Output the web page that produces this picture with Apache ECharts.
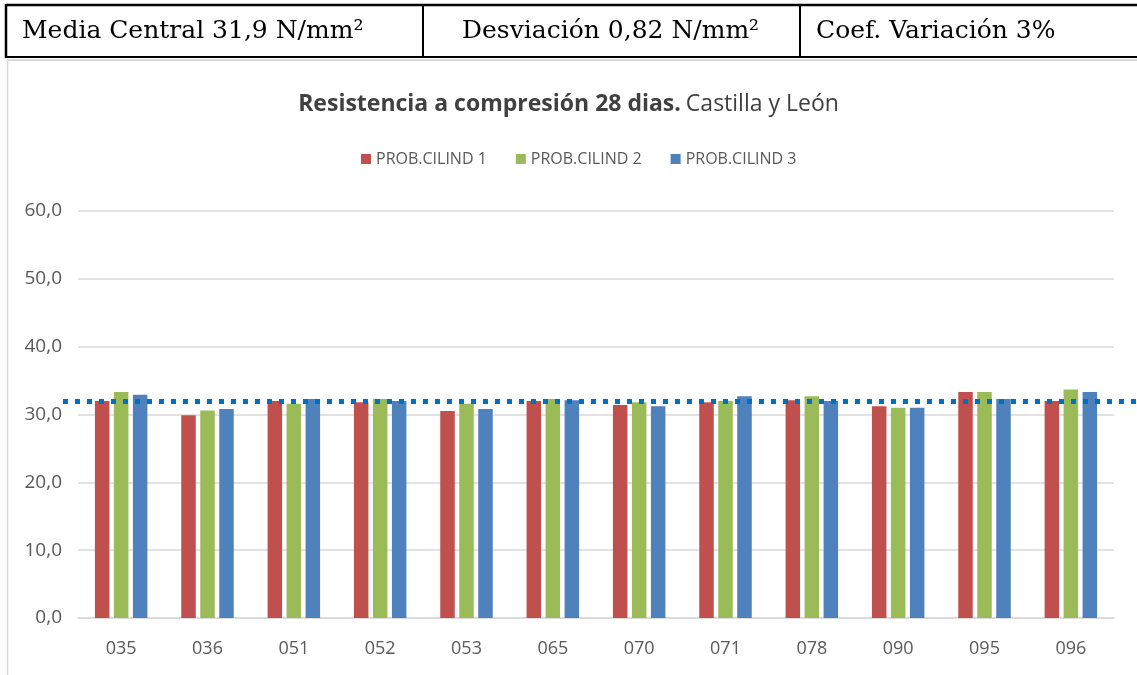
<!DOCTYPE html>
<html>
<head>
<meta charset="utf-8">
<script src="https://cdn.jsdelivr.net/npm/echarts@6/dist/echarts.min.js"></script>
<style>
html,body{margin:0;padding:0;background:#fff;}
#chart{width:1137px;height:675px;}
</style>
</head>
<body>
<div id="chart"></div>
<script>
const categories = ['035','036','051','052','053','065','070','071','078','090','095','096'];
const seriesNames = ['PROB.CILIND 1','PROB.CILIND 2','PROB.CILIND 3'];
const cilind1 = [32.0,29.9,32.0,31.8,30.5,32.0,31.4,31.8,32.1,31.2,33.3,32.0];
const cilind2 = [33.3,30.6,31.6,32.3,31.6,32.3,31.8,32.0,32.7,31.0,33.3,33.7];
const cilind3 = [32.9,30.8,32.3,32.0,30.8,32.1,31.2,32.7,32.0,31.0,32.3,33.3];
const meanValue = 31.9;
const yMin = 0, yMax = 60, yStep = 10;
const summaryTexts = ['Media Central 31,9 N/mm²','Desviación 0,82 N/mm²','Coef. Variación 3%'];
const titleBold = 'Resistencia a compresión 28 dias.';
const titleNormal = 'Castilla y León';

const colors = ['#C0504D','#9BBB59','#4F81BD'];
const sans = '"Open Sans", "Noto Sans", sans-serif';
const serif = '"DejaVu Serif", "Liberation Serif", serif';

const chart = echarts.init(document.getElementById('chart'), null, {renderer:'canvas'});

const tableGraphics = [
  {type:'line', shape:{x1:6,y1:5,x2:1137,y2:5}, style:{stroke:'#000',lineWidth:2.5}},
  {type:'line', shape:{x1:6,y1:57,x2:1137,y2:57}, style:{stroke:'#000',lineWidth:2}},
  {type:'line', shape:{x1:6,y1:4,x2:6,y2:58}, style:{stroke:'#000',lineWidth:2.5}},
  {type:'line', shape:{x1:423,y1:5,x2:423,y2:57}, style:{stroke:'#000',lineWidth:2}},
  {type:'line', shape:{x1:800,y1:5,x2:800,y2:57}, style:{stroke:'#000',lineWidth:2}},
  {type:'line', shape:{x1:7,y1:60,x2:1137,y2:60}, style:{stroke:'#d9d9d9',lineWidth:2}},
  {type:'line', shape:{x1:7.5,y1:60,x2:7.5,y2:675}, style:{stroke:'#d9d9d9',lineWidth:1.5}},
  {type:'text', x:22, y:31, style:{text:summaryTexts[0], font:'25px '+serif, fill:'#000', verticalAlign:'middle'}},
  {type:'text', x:462, y:31, style:{text:summaryTexts[1], font:'25px '+serif, fill:'#000', verticalAlign:'middle'}},
  {type:'text', x:816, y:31, style:{text:summaryTexts[2], font:'25px '+serif, fill:'#000', verticalAlign:'middle'}}
];

const option = {
  backgroundColor:'#fff',
  animation:false,
  color: colors,
  title:{
    text:'{b|'+titleBold+'} {n|'+titleNormal+'}',
    left:'center', top:88,
    textStyle:{
      rich:{
        b:{fontFamily:sans, fontSize:23, fontWeight:'bold', color:'#404040'},
        n:{fontFamily:sans, fontSize:23, fontWeight:'normal', color:'#404040'}
      }
    }
  },
  legend:{
    top:146, left:356,
    itemWidth:10, itemHeight:10, itemGap:29,
    icon:'rect',
    textStyle:{fontFamily:sans, fontSize:16, color:'#595959'},
    data: seriesNames
  },
  grid:{left:78, right:23, top:211, bottom:57, containLabel:false},
  xAxis:{
    type:'category', data:categories,
    axisLine:{lineStyle:{color:'#d9d9d9',width:1.5}},
    axisTick:{show:false},
    axisLabel:{fontFamily:sans, fontSize:18, color:'#595959', margin:22}
  },
  yAxis:{
    type:'value', min:yMin, max:yMax, interval:yStep,
    axisLine:{show:false}, axisTick:{show:false},
    splitLine:{lineStyle:{color:'#d9d9d9',width:1.5}},
    axisLabel:{fontFamily:sans, fontSize:19, color:'#595959', margin:16,
      formatter: v => v.toFixed(1).replace('.', ',')}
  },
  graphic: tableGraphics,
  series:[
    {name:seriesNames[0], type:'bar', data:cilind1, barWidth:14.5, barGap:'31%'},
    {name:seriesNames[1], type:'bar', data:cilind2, barWidth:14.5, barGap:'31%'},
    {name:seriesNames[2], type:'bar', data:cilind3, barWidth:14.5, barGap:'31%'}
  ]
};
chart.setOption(option);

const yMean = chart.convertToPixel({yAxisIndex:0}, meanValue);
chart.setOption({
  graphic: tableGraphics.concat([
    {type:'line', z:100, shape:{x1:63,y1:yMean,x2:1137,y2:yMean},
     style:{stroke:'#0070C0', lineWidth:5, lineDash:[5,7], lineCap:'butt'}}
  ])
});
</script>
</body>
</html>
